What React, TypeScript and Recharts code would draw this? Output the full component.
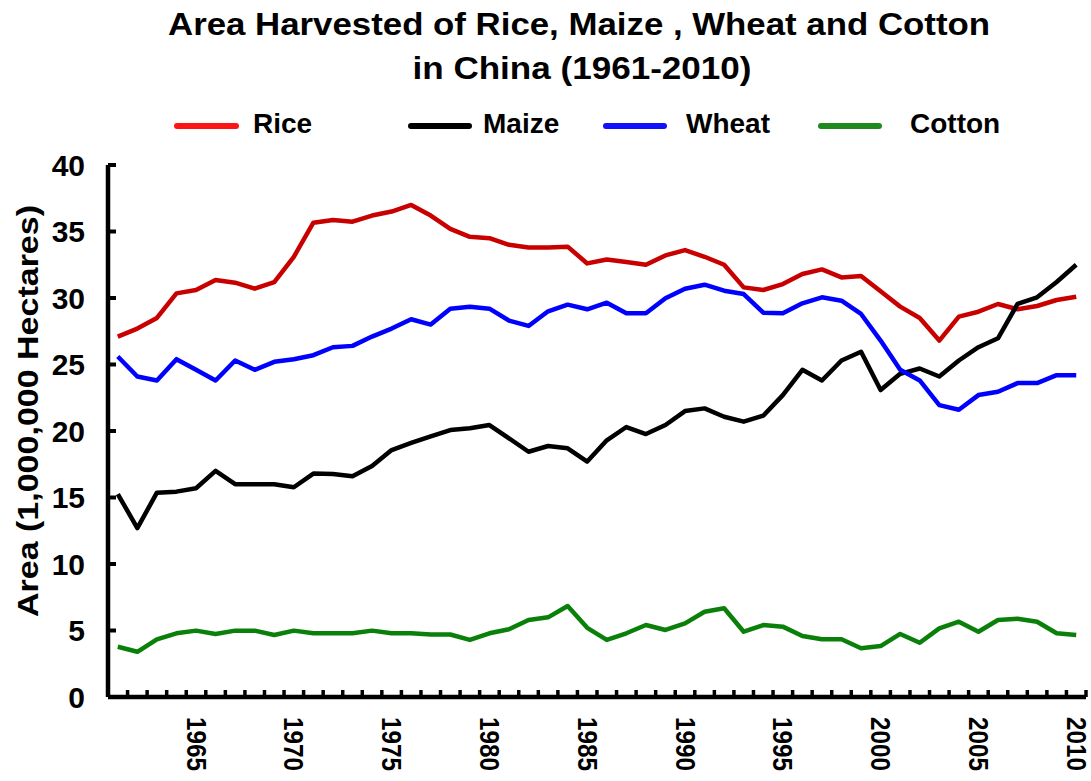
import { LineChart, Line, XAxis, YAxis } from 'recharts'

const years = [
  1961, 1962, 1963, 1964, 1965, 1966, 1967, 1968, 1969, 1970,
  1971, 1972, 1973, 1974, 1975, 1976, 1977, 1978, 1979, 1980,
  1981, 1982, 1983, 1984, 1985, 1986, 1987, 1988, 1989, 1990,
  1991, 1992, 1993, 1994, 1995, 1996, 1997, 1998, 1999, 2000,
  2001, 2002, 2003, 2004, 2005, 2006, 2007, 2008, 2009, 2010,
]

const rice = [
  27.1, 27.7, 28.5, 30.35, 30.6, 31.35, 31.15, 30.7, 31.2, 33.1,
  35.66, 35.86, 35.74, 36.2, 36.5, 37.0, 36.2, 35.2, 34.6, 34.5,
  34.0, 33.8, 33.8, 33.86, 32.6, 32.9, 32.7, 32.5, 33.2, 33.6,
  33.1, 32.5, 30.8, 30.6, 31.05, 31.8, 32.15, 31.55, 31.65, 30.5,
  29.35, 28.5, 26.8, 28.6, 28.97, 29.55, 29.15, 29.4, 29.85, 30.1,
]

const maize = [
  15.26, 12.7, 15.36, 15.44, 15.7, 17.0, 16.0, 16.0, 16.0, 15.77,
  16.8, 16.77, 16.6, 17.37, 18.57, 19.1, 19.6, 20.07, 20.2, 20.45,
  19.45, 18.44, 18.87, 18.7, 17.7, 19.3, 20.3, 19.77, 20.45, 21.5,
  21.7, 21.07, 20.7, 21.15, 22.7, 24.6, 23.8, 25.3, 25.96, 23.08,
  24.3, 24.7, 24.1, 25.3, 26.3, 26.97, 29.55, 30.05, 31.2, 32.5,
]

const wheat = [
  25.6, 24.1, 23.8, 25.4, 24.6, 23.8, 25.3, 24.6, 25.2, 25.4,
  25.7, 26.3, 26.4, 27.1, 27.7, 28.4, 28.0, 29.2, 29.35, 29.2,
  28.3, 27.9, 29.0, 29.5, 29.15, 29.65, 28.85, 28.85, 29.98, 30.7,
  31.0, 30.55, 30.3, 28.9, 28.85, 29.6, 30.05, 29.8, 28.8, 26.8,
  24.6, 23.8, 21.95, 21.6, 22.7, 22.95, 23.6, 23.6, 24.2, 24.2,
]

const cotton = [
  3.78, 3.4, 4.34, 4.79, 4.99, 4.74, 4.99, 4.99, 4.66, 4.99,
  4.79, 4.79, 4.79, 4.99, 4.79, 4.79, 4.7, 4.7, 4.29, 4.79,
  5.09, 5.79, 5.99, 6.84, 5.2, 4.29, 4.79, 5.41, 5.04, 5.54,
  6.41, 6.67, 4.91, 5.41, 5.29, 4.59, 4.34, 4.34, 3.66, 3.83,
  4.74, 4.08, 5.16, 5.66, 4.91, 5.79, 5.89, 5.66, 4.79, 4.66,
]

const yTicks = [0, 5, 10, 15, 20, 25, 30, 35, 40]
const yearLabels = [1965, 1970, 1975, 1980, 1985, 1990, 1995, 2000, 2005, 2010]
// tick marks sit between the year categories
const minorTicks = [...years.map(y => y - 0.5), 2010.5]

const data = years.map((year, i) => ({
  year,
  rice: rice[i],
  maize: maize[i],
  wheat: wheat[i],
  cotton: cotton[i],
}))

const series = [
  { key: 'rice',   name: 'Rice',   color: '#c80000', legend: '#ff1414' },
  { key: 'maize',  name: 'Maize',  color: '#000000', legend: '#000000' },
  { key: 'wheat',  name: 'Wheat',  color: '#0000ff', legend: '#1010ff' },
  { key: 'cotton', name: 'Cotton', color: '#0a800a', legend: '#1f8a1f' },
]

const FONT = '"Liberation Sans", Arial, Helvetica, sans-serif'

function NoTick() {
  return <g />
}

function YearTick({ x, y, payload }: any) {
  return (
    <text
      x={x}
      y={y}
      transform={`rotate(90, ${x}, ${y})`}
      textAnchor="start"
      dominantBaseline="central"
      fontFamily={FONT}
      fontWeight={700}
      fontSize={28}
      fill="#000"
      textLength={54}
      lengthAdjust="spacingAndGlyphs"
    >
      {payload.value}
    </text>
  )
}

export default function App() {
  // legend slots: line start/end, text start
  const legendPos = [
    { x1: 177, x2: 236, tx: 253 },
    { x1: 411, x2: 469, tx: 483 },
    { x1: 606, x2: 664, tx: 686 },
    { x1: 821, x2: 879, tx: 910 },
  ]

  return (
    <div style={{ position: 'relative', width: 1091, height: 781, background: '#fff' }}>
      <style>{'body { margin: 0; }'}</style>

      <LineChart
        width={1091}
        height={781}
        data={data}
        margin={{ top: 165, right: 5, left: 0, bottom: 0 }}
        style={{ fontFamily: FONT }}
      >
        <XAxis
          xAxisId="a"
          dataKey="year"
          type="number"
          domain={[1960.5, 2010.5]}
          ticks={minorTicks}
          interval={0}
          tick={<NoTick />}
          tickSize={-7}
          height={2}
          axisLine={{ stroke: '#000', strokeWidth: 4.5 }}
          tickLine={{ stroke: '#000', strokeWidth: 3.5 }}
        />
        <XAxis
          xAxisId="b"
          dataKey="year"
          type="number"
          domain={[1960.5, 2010.5]}
          ticks={yearLabels}
          interval={0}
          tick={<YearTick />}
          tickSize={0}
          tickMargin={18}
          height={82}
          axisLine={false}
          tickLine={false}
        />
        <YAxis
          domain={[0, 40]}
          ticks={yTicks}
          interval={0}
          width={108}
          tickSize={-8}
          tickMargin={31}
          axisLine={{ stroke: '#000', strokeWidth: 4.5 }}
          tickLine={{ stroke: '#000', strokeWidth: 4 }}
          tick={{ fill: '#000', fontSize: 30, fontWeight: 700, fontFamily: FONT }}
        />
        {series.map(s => (
          <Line
            key={s.key}
            xAxisId="a"
            type="linear"
            dataKey={s.key}
            name={s.name}
            stroke={s.color}
            strokeWidth={4.5}
            strokeLinejoin="round"
            dot={false}
            activeDot={false}
            isAnimationActive={false}
          />
        ))}
      </LineChart>

      <svg
        width={1091}
        height={781}
        style={{ position: 'absolute', left: 0, top: 0, pointerEvents: 'none' }}
      >
        <g fontFamily={FONT} fontWeight={700} fill="#000">
          <text x={579} y={35} fontSize={31} textAnchor="middle" textLength={822} lengthAdjust="spacingAndGlyphs">
            Area Harvested of Rice, Maize , Wheat and Cotton
          </text>
          <text x={582} y={79} fontSize={31} textAnchor="middle" textLength={339} lengthAdjust="spacingAndGlyphs">
            in China (1961-2010)
          </text>

          {series.map((s, i) => (
            <g key={s.key}>
              <line
                x1={legendPos[i].x1} x2={legendPos[i].x2} y1={126} y2={126}
                stroke={s.legend} strokeWidth={6} strokeLinecap="round"
              />
              <text x={legendPos[i].tx} y={133} fontSize={28}>{s.name}</text>
            </g>
          ))}

          <text
            x={38}
            y={411}
            fontSize={30}
            textAnchor="middle"
            transform="rotate(-90, 38, 411)"
            textLength={412}
            lengthAdjust="spacingAndGlyphs"
          >
            Area (1,000,000 Hectares)
          </text>
        </g>
      </svg>
    </div>
  )
}
